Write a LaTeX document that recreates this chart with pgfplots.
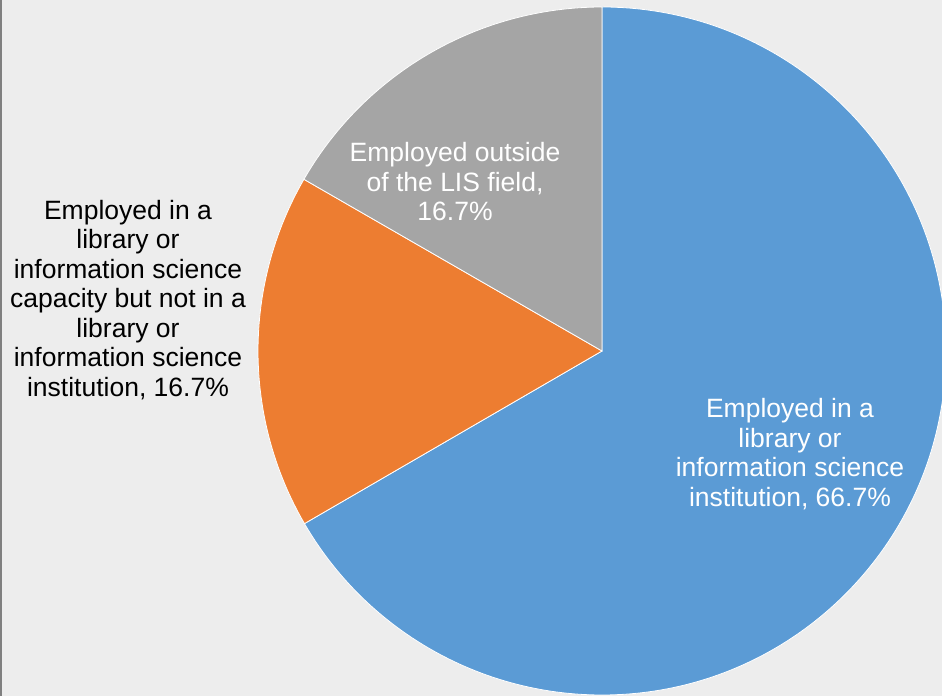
\documentclass[border=0pt]{standalone}
\usepackage{pgfplots}
\pgfplotsset{compat=1.18}
\usepackage{fontspec}
\setmainfont{Liberation Sans}
\definecolor{bgc}{HTML}{EDEDED}
\definecolor{cblue}{HTML}{5B9BD5}
\definecolor{corange}{HTML}{ED7D31}
\definecolor{cgray}{HTML}{A5A5A5}
\begin{document}
\begin{tikzpicture}
% slice values (percent)
\def\vA{66.7}% Employed in a library or information science institution
\def\vB{16.7}% Employed in LIS capacity but not in LIS institution
\def\vC{16.7}% Employed outside of the LIS field
\pgfmathsetmacro{\tot}{\vA+\vB+\vC}
\pgfmathsetmacro{\aA}{90}
\pgfmathsetmacro{\aB}{90-3.6*(\vA/\tot)*100}
\pgfmathsetmacro{\aC}{\aB-3.6*(\vB/\tot)*100}
\pgfmathsetmacro{\aD}{\aC-3.6*(\vC/\tot)*100}
\begin{axis}[
  scale only axis, width=942bp, height=696bp,
  xmin=0, xmax=942, ymin=0, ymax=696,
  axis lines=none, ticks=none, clip=true,
]
\fill[bgc] (axis cs:0,0) rectangle (axis cs:942,696);
\draw[line width=2bp, black!50] (axis cs:1,0) -- (axis cs:1,696);
\fill[cblue, draw=white, line width=0.8bp] (axis cs:602,345) -- ++(\aA:344bp) arc[start angle=\aA, end angle=\aB, radius=344bp] -- cycle;
\fill[corange, draw=white, line width=0.8bp] (axis cs:602,345) -- ++(\aB:344bp) arc[start angle=\aB, end angle=\aC, radius=344bp] -- cycle;
\fill[cgray, draw=white, line width=0.8bp] (axis cs:602,345) -- ++(\aC:344bp) arc[start angle=\aC, end angle=\aD, radius=344bp] -- cycle;
\node[align=center, text=white, font=\fontsize{26.5bp}{29.5bp}\selectfont] at (axis cs:790,242) {Employed in a\\library or\\information science\\institution, 66.7\%};
\node[align=center, text=white, font=\fontsize{26.5bp}{29.5bp}\selectfont] at (axis cs:455,514) {Employed outside\\of the LIS field,\\16.7\%};
\node[align=center, text=black, font=\fontsize{26.5bp}{29.5bp}\selectfont] at (axis cs:128,396) {Employed in a\\library or\\information science\\capacity but not in a\\library or\\information science\\institution, 16.7\%};
\end{axis}
\end{tikzpicture}
\end{document}
